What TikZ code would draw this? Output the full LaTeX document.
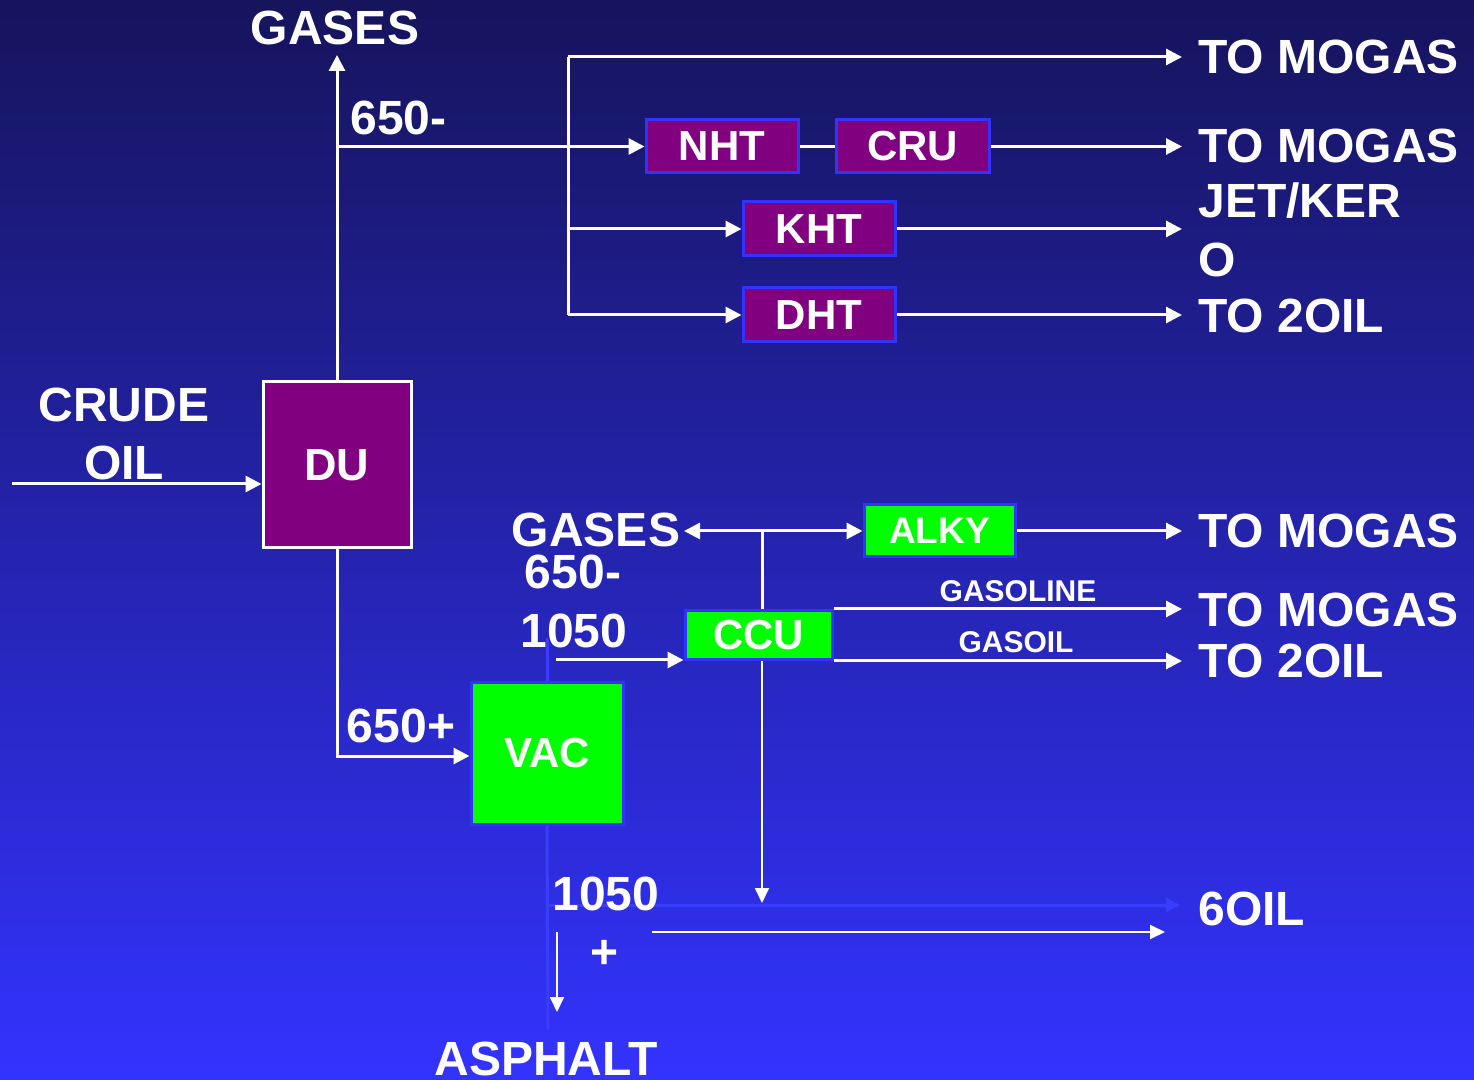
\documentclass[tikz,border=0pt]{standalone}
\usepackage{fontspec}
\setmainfont{Liberation Sans}
\usetikzlibrary{arrows.meta}
\definecolor{bgtop}{RGB}{22,20,92}
\definecolor{bgmid}{RGB}{38,38,192}
\definecolor{bgbot}{RGB}{51,51,255}
\definecolor{unitpurple}{RGB}{128,0,128}
\definecolor{unitgreen}{RGB}{0,255,0}
\definecolor{edgeblue}{RGB}{51,51,255}
\definecolor{ghostblue}{RGB}{60,60,252}
\begin{document}
\begin{tikzpicture}[x=0.5pt,y=-0.5pt,
  flow/.style={draw=white, line width=1.5pt},
  arr/.style={flow, -{Triangle[length=8pt,width=8pt]}},
  thinarr/.style={draw=white, line width=1pt, -{Triangle[length=7.5pt,width=7pt]}},
  ghostline/.style={draw=ghostblue, line width=1.5pt},
  txt/.style={text=white, font=\fontsize{24}{27.5}\selectfont\bfseries, inner sep=0pt},
  smalltxt/.style={text=white, font=\fontsize{15}{18}\selectfont\bfseries, inner sep=0pt},
  unit/.style={draw=edgeblue, line width=1.5pt, text=white, inner sep=0pt,
    font=\fontsize{21}{24}\selectfont\bfseries},
  purpleunit/.style={unit, fill=unitpurple},
  greenunit/.style={unit, fill=unitgreen},
]
\useasboundingbox (0,0) rectangle (1474,1080);
\shade[top color=bgtop, middle color=bgmid, bottom color=bgbot] (0,0) rectangle (1474,1080);

% units
\node[purpleunit, draw=white, minimum width=74pt, minimum height=83pt, font=\fontsize{22.5}{26}\selectfont\bfseries] (du) at (337,465) {DU};
\node[purpleunit, minimum width=76pt, minimum height=26.5pt] (nht) at (722,146.5) {NHT};
\node[purpleunit, minimum width=76.5pt, minimum height=26.5pt] (cru) at (912.5,146.5) {CRU};
\node[purpleunit, minimum width=76pt, minimum height=27pt] (kht) at (819,229) {KHT};
\node[purpleunit, minimum width=76pt, minimum height=27pt] (dht) at (819,315) {DHT};
\node[greenunit, minimum width=75.5pt, minimum height=26pt, font=\fontsize{18.5}{22}\selectfont\bfseries] (alky) at (939.5,531) {ALKY};
\node[greenunit, minimum width=73.5pt, minimum height=24.5pt] (ccu) at (758.5,635.5) {CCU};
\node[greenunit, minimum width=76pt, minimum height=70.5pt] (vac) at (547,753.5) {VAC};

% coordinates
\coordinate (ex) at (1182,0);
\coordinate (gup) at (0,55);
\coordinate (cs) at (12,484);
\coordinate (vt) at (568,57);
\coordinate (ccuin) at (556,660);
\coordinate (gj) at (762,531);
\coordinate (gasl) at (684,531);
\coordinate (glrow) at (0,609);
\coordinate (gorow) at (0,661);
\coordinate (dnend) at (0,903);
\coordinate (soil) at (652,932);
\coordinate (soilend) at (1165,932);
\coordinate (asp) at (557,932);
\coordinate (aspend) at (557,1012);
\coordinate (gh1) at (548,640);
\coordinate (gh2) at (548,1030);
\coordinate (gh3) at (548,905);
\coordinate (gh4) at (1180,905);
\coordinate (vacin) at (0,756);

% faint lines
\draw[ghostline] (gh1) -- (gh1 -| vac.north) -- (vac.north);
\draw[ghostline] (vac.south) -- (gh2);
\draw[ghostline, -{Triangle[length=7pt,width=7pt]}] (gh3) -- (gh4);

% connectors
\draw[arr] (cs) -- (du.west |- cs);
\draw[arr] (du.north) -- (du.north |- gup);
\draw[arr] (du.north |- nht.west) -- (nht.west);
\draw[flow] (vt) -- (vt |- dht.west);
\draw[arr] (vt) -- (vt -| ex);
\draw[flow] (nht.east) -- (cru.west);
\draw[arr] (cru.east) -- (cru.east -| ex);
\draw[arr] (vt |- kht.west) -- (kht.west);
\draw[arr] (kht.east) -- (kht.east -| ex);
\draw[arr] (vt |- dht.west) -- (dht.west);
\draw[arr] (dht.east) -- (dht.east -| ex);
\draw[arr] (du.south) |- (vac.west |- vacin);
\draw[arr] (ccuin) -- (ccu.west |- ccuin);
\draw[flow] (gj) -- (gj |- ccu.north);
\draw[arr] (gj) -- (alky.west);
\draw[arr] (gj) -- (gasl);
\draw[arr] (alky.east) -- (alky.east -| ex);
\draw[arr] (ccu.east |- glrow) -- (ex |- glrow);
\draw[arr] (ccu.east |- gorow) -- (ex |- gorow);
\draw[thinarr] (gj |- ccu.south) -- (gj |- dnend);
\draw[thinarr] (soil) -- (soilend);
\draw[thinarr] (asp) -- (aspend);

% labels
\node[txt, anchor=base] (lgases) at (335,45) {GASES};
\node[txt, anchor=base west] (l650a) at (350,135) {650-};
\node[txt, anchor=base west] (o1) at (1198,74) {TO MOGAS};
\node[txt, anchor=base west] (o2) at (1198,163) {TO MOGAS};
\node[txt, anchor=base west] (o3a) at (1198,218) {JET/KER};
\node[txt, anchor=base west] (o3b) at (1198,277) {O};
\node[txt, anchor=base west] (o4) at (1198,333) {TO 2OIL};
\node[txt, anchor=base] (lcrude) at (124,422) {CRUDE};
\node[txt, anchor=base] (loil) at (124,480) {OIL};
\node[txt, anchor=base] (lgases2) at (596,547) {GASES};
\node[txt, anchor=base] (l650b) at (573,589) {650-};
\node[txt, anchor=base] (l1050a) at (574,647) {1050};
\node[smalltxt, anchor=base] (lgasoline) at (1018,602) {GASOLINE};
\node[smalltxt, anchor=base] (lgasoil) at (1016,653) {GASOIL};
\node[txt, anchor=base west] (o5) at (1198,548) {TO MOGAS};
\node[txt, anchor=base west] (o6) at (1198,627) {TO MOGAS};
\node[txt, anchor=base west] (o7) at (1198,678) {TO 2OIL};
\node[txt, anchor=base] (l650p) at (401,742) {650+};
\node[txt, anchor=base] (l1050b) at (606,910) {1050};
\node[txt, anchor=base] (lplus) at (605,968) {+};
\node[txt, anchor=base west] (o8) at (1198,925) {6OIL};
\node[txt, anchor=base] (lasph) at (546,1075) {ASPHALT};
\end{tikzpicture}
\end{document}
